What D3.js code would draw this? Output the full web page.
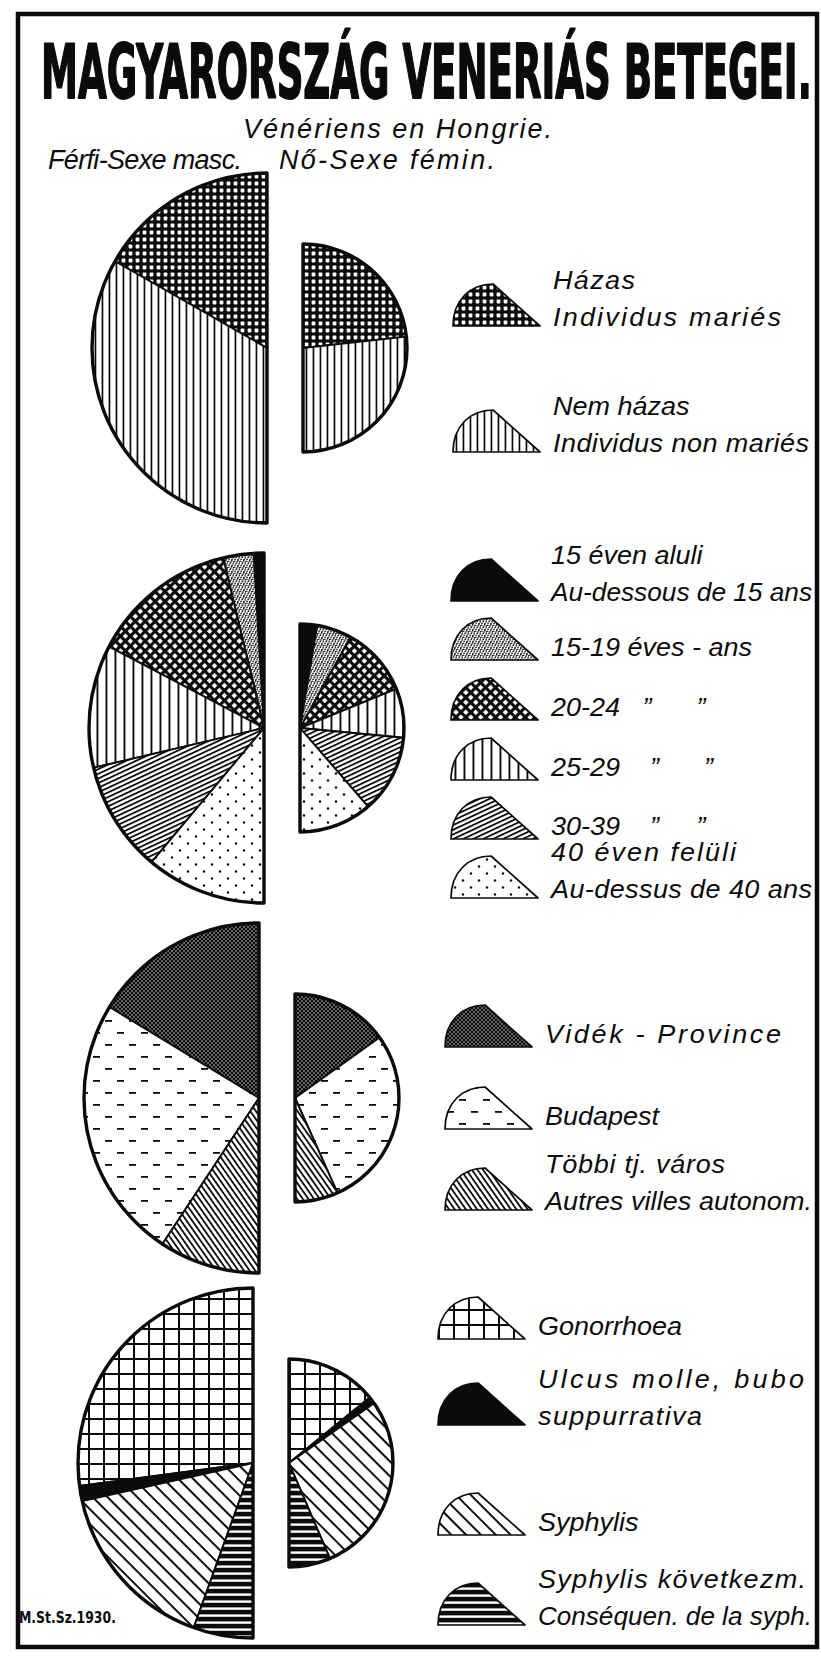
<!DOCTYPE html>
<html><head><meta charset="utf-8">
<script src="https://cdn.jsdelivr.net/npm/d3@7"></script>
<style>html,body{margin:0;padding:0;background:#fff;} svg{display:block}</style>
</head><body>
<svg id="chart" width="821" height="1660"></svg>
<script>
// ---------------- DATA ----------------
const sexes = ["Férfi", "Nő"];
const sexTotals = [100, 35.3];              // relative number of patients (male = 100)

const maritalCategories = ["Házas", "Nem házas"];
const maritalMale   = [33.5, 66.5];
const maritalFemale = [46.5, 53.5];

const ageCategories = ["15 éven aluli", "15-19", "20-24", "25-29", "30-39", "40 éven felüli"];
const ageMale   = [1.9, 5.6, 27.1, 22.7, 20.5, 22.2];
const ageFemale = [5.3, 10.9, 21.5, 15.3, 24.3, 22.7];

const residenceCategories = ["Vidék", "Budapest", "Többi tj. város"];
const residenceMale   = [32.6, 48.8, 18.6];
const residenceFemale = [30.2, 56.4, 13.4];

const diseaseCategories = ["Gonorrhoea", "Ulcus molle", "Syphylis", "Syphylis következm."];
const diseaseMale   = [54.2, 2.8, 32.0, 11.0];
const diseaseFemale = [28.3, 2.2, 56.6, 12.9];

const maritalLabels   = [["Házas", "Individus mariés"], ["Nem házas", "Individus non mariés"]];
const ageLabels       = [["15 éven aluli", "Au-dessous de 15 ans"], ["15-19 éves - ans"],
                         ["20-24   \u201D      \u201D"], ["25-29    \u201D      \u201D"],
                         ["30-39    \u201D     \u201D"], ["40 éven felüli", "Au-dessus de 40 ans"]];
const residenceLabels = [["Vidék - Province"], ["Budapest"], ["Többi tj. város", "Autres villes autonom."]];
const diseaseLabels   = [["Gonorrhoea"], ["Ulcus molle, bubo", "suppurrativa"], ["Syphylis"],
                         ["Syphylis következm.", "Conséquen. de la syph."]];

const titleText = "MAGYARORSZÁG VENERIÁS BETEGEI.";
const subtitleText = "Vénériens en Hongrie.";
const sexLabels = ["Férfi-Sexe masc.", "Nő-Sexe fémin."];
const creditText = "M.St.Sz.1930.";

// ---------------- LAYOUT ----------------
const layout = [
  { edge: 267, cy: 348,  legX: 453, legY: [326, 452] },
  { edge: 264, cy: 728,  legX: 451, legY: [601, 660, 720, 780, 839, 898] },
  { edge: 259, cy: 1098, legX: 445, legY: [1047, 1129, 1210] },
  { edge: 253, cy: 1463, legX: 438, legY: [1339, 1425, 1535, 1625] }
];
// target widths of the legend text lines (px)
const legendWidths = [
  [[82, 228], [135, 256]],
  [[145, 256], [182], [150], [150], [150], [185, 262]],
  [[236], [102], [180, 270]],
  [[129], [266, 164], [88], [268, 269]]
];
const halfGap = 36;

// ---------------- DRAWING ----------------
const svg = d3.select("#chart");
const INK = "#0b0b0b";
const defs = svg.append("defs");
function pat(id, w, h, draw, transform) {
  const p = defs.append("pattern").attr("id", id)
    .attr("patternUnits", "userSpaceOnUse").attr("width", w).attr("height", h);
  if (transform) p.attr("patternTransform", transform);
  draw(p, w, h);
}
const bg = (p, w, h, c) => p.append("rect").attr("width", w).attr("height", h).attr("fill", c);
pat("p-hazas", 7, 7, (p, w, h) => { bg(p, w, h, INK);
  p.append("rect").attr("x", 1.6).attr("y", 1.6).attr("width", 3.8).attr("height", 3.8).attr("rx", 0.8).attr("fill", "#fff"); });
pat("p-vert7", 7, 7, (p, w, h) => { bg(p, w, h, "#fff");
  p.append("rect").attr("x", 2.6).attr("width", 1.7).attr("height", h).attr("fill", INK); });
pat("p-black", 4, 4, (p, w, h) => bg(p, w, h, INK));
pat("p-stipple", 6, 6, (p, w, h) => { bg(p, w, h, "#fff");
  [[0.8,1.2],[3.8,0.6],[2.2,3.4],[5.1,3.9],[1.1,5.3],[4.0,5.6],[5.5,1.9],[3.0,2.0]].forEach(d =>
    p.append("circle").attr("cx", d[0]).attr("cy", d[1]).attr("r", 0.8).attr("fill", INK)); });
pat("p-cross", 7, 7, (p, w, h) => { bg(p, w, h, "#fff");
  p.append("rect").attr("width", w).attr("height", 3.1).attr("fill", INK);
  p.append("rect").attr("width", 3.1).attr("height", h).attr("fill", INK); }, "rotate(45)");
pat("p-vert9", 9, 9, (p, w, h) => { bg(p, w, h, "#fff");
  p.append("rect").attr("x", 3.5).attr("width", 1.9).attr("height", h).attr("fill", INK); });
pat("p-diag30", 4.2, 4.2, (p, w, h) => { bg(p, w, h, "#fff");
  p.append("rect").attr("width", w).attr("height", 1.8).attr("fill", INK); }, "rotate(-25)");
pat("p-sparse", 16, 14, (p, w, h) => { bg(p, w, h, "#fff");
  [[4,3.5],[12,10.5]].forEach(d => p.append("circle").attr("cx", d[0]).attr("cy", d[1]).attr("r", 1.2).attr("fill", INK)); });
pat("p-videk", 4, 4, (p, w, h) => { bg(p, w, h, INK);
  [[1,1],[3,3]].forEach(d => p.append("circle").attr("cx", d[0]).attr("cy", d[1]).attr("r", 0.7).attr("fill", "#fff")); });
pat("p-budapest", 24, 24, (p, w, h) => { bg(p, w, h, "#fff");
  [[2,6],[14,18]].forEach(d => p.append("rect").attr("x", d[0]).attr("y", d[1]).attr("width", 7).attr("height", 1.8).attr("fill", INK)); });
pat("p-tobbi", 4.6, 4.6, (p, w, h) => { bg(p, w, h, "#fff");
  p.append("rect").attr("width", w).attr("height", 1.8).attr("fill", INK); }, "rotate(55)");
pat("p-grid", 15, 15, (p, w, h) => { bg(p, w, h, "#fff");
  p.append("rect").attr("width", w).attr("height", 2).attr("fill", INK);
  p.append("rect").attr("width", 2).attr("height", h).attr("fill", INK); });
pat("p-syph", 10.5, 10.5, (p, w, h) => { bg(p, w, h, "#fff");
  p.append("rect").attr("width", w).attr("height", 2).attr("fill", INK); }, "rotate(45)");
pat("p-syphk", 7, 7, (p, w, h) => { bg(p, w, h, INK);
  p.append("rect").attr("y", 4.4).attr("width", w).attr("height", 2.4).attr("fill", "#fff"); });

const groups = [
  { values: [maritalMale, maritalFemale], cats: maritalCategories, labels: maritalLabels,
    patterns: ["p-hazas", "p-vert7"] },
  { values: [ageMale, ageFemale], cats: ageCategories, labels: ageLabels,
    patterns: ["p-black", "p-stipple", "p-cross", "p-vert9", "p-diag30", "p-sparse"] },
  { values: [residenceMale, residenceFemale], cats: residenceCategories, labels: residenceLabels,
    patterns: ["p-videk", "p-budapest", "p-tobbi"] },
  { values: [diseaseMale, diseaseFemale], cats: diseaseCategories, labels: diseaseLabels,
    patterns: ["p-grid", "p-black", "p-syph", "p-syphk"] }
];

const rScale = d3.scaleSqrt().domain([0, d3.max(sexTotals)]).range([0, 175]);

// frame
svg.append("rect").attr("x", 18).attr("y", 14).attr("width", 799).attr("height", 1633)
  .attr("fill", "none").attr("stroke", INK).attr("stroke-width", 4.5);

// fit a text horizontally between x0 and x0+width by scaling it
function fitText(sel, x0, y, width) {
  const len = sel.node().getComputedTextLength();
  sel.attr("x", 0).attr("y", 0)
    .attr("transform", `translate(${x0},${y}) scale(${width / len},1)`);
}

// title
const title = svg.append("text").text(titleText)
  .attr("font-family", "'Liberation Sans Narrow','DejaVu Sans Condensed','DejaVu Sans',sans-serif")
  .attr("font-weight", "bold").attr("font-size", 75)
  .attr("fill", INK).attr("stroke", INK).attr("stroke-width", 1.8).attr("stroke-linejoin", "round");
fitText(title, 41, 97.5, 771);

const italic = sel => sel.attr("font-family", "'Liberation Sans','DejaVu Sans',sans-serif")
  .attr("font-style", "italic").attr("fill", INK);

function lineText(str, x, y, size, width, adjust) {
  const t = svg.append("text").attr("x", x).attr("y", y).attr("font-size", size)
    .style("white-space", "pre").text(str).call(italic);
  const w = Math.min(width, 812 - x);
  t.attr("textLength", w).attr("lengthAdjust", adjust || "spacingAndGlyphs");
  return t;
}
// legend line: uniform glyph widening, extra width given to letter spacing
const GLYPH_STRETCH = 1.08;
function legendText(str, x, y, size, width) {
  const t = svg.append("text").attr("x", 0).attr("y", 0).attr("font-size", size)
    .style("white-space", "pre").text(str).call(italic)
    .attr("transform", `translate(${x},${y}) scale(${GLYPH_STRETCH},1)`);
  const len = t.node().getComputedTextLength() * GLYPH_STRETCH;
  const maxW = 812 - x;
  const w = Math.min(Math.max(width, len), maxW);
  if (Math.abs(w - len) > 0.5) {
    t.attr("textLength", w / GLYPH_STRETCH).attr("lengthAdjust", w > len ? "spacing" : "spacingAndGlyphs");
  }
  return t;
}
lineText(subtitleText, 243, 137.5, 27, 309, "spacing");
lineText(sexLabels[0], 48, 169, 27, 194, "spacing");
lineText(sexLabels[1], 279, 169, 27, 216, "spacing");

// pies
const arcGen = d3.arc().innerRadius(0);
groups.forEach((g, gi) => {
  const L = layout[gi];
  g.values.forEach((vals, si) => {
    const r = rScale(sexTotals[si]);
    const dir = si === 0 ? -1 : 1;
    const cx = si === 0 ? L.edge : L.edge + halfGap;
    const pie = d3.pie().sort(null).value(d => d).startAngle(0).endAngle(dir * Math.PI);
    const gg = svg.append("g").attr("transform", `translate(${cx},${L.cy})`);
    gg.selectAll("path.slice").data(pie(vals)).join("path").attr("class", "slice")
      .attr("d", d => arcGen.outerRadius(r)(d))
      .attr("fill", (d, i) => `url(#${g.patterns[i]})`)
      .attr("stroke", INK).attr("stroke-width", 1.9).attr("stroke-linejoin", "round");
    gg.append("path")
      .attr("d", arcGen.outerRadius(r)({ startAngle: 0, endAngle: dir * Math.PI }))
      .attr("fill", "none").attr("stroke", INK).attr("stroke-width", 3.4).attr("stroke-linejoin", "round");
  });

  // legend
  const iw = 87, ih = 42;
  const iconPath = `M0,0 C0,${-0.62 * ih} ${0.2 * iw},${-ih} ${0.46 * iw},${-ih} L${iw},0 Z`;
  g.cats.forEach((c, i) => {
    const yb = L.legY[i];
    svg.append("path").attr("d", iconPath).attr("transform", `translate(${L.legX},${yb})`)
      .attr("fill", `url(#${g.patterns[i]})`).attr("stroke", INK).attr("stroke-width", 1.7)
      .attr("stroke-linejoin", "round");
    const lines = g.labels[i];
    const tx = L.legX + 100;
    lines.forEach((line, li) => {
      const y = lines.length === 1 ? yb - 4 : (li === 0 ? yb - 37 : yb);
      legendText(line, tx, y, 25, legendWidths[gi][i][li]);
    });
  });
});

// credit
const credit = svg.append("text").text(creditText)
  .attr("font-family", "'DejaVu Sans Condensed','DejaVu Sans',sans-serif").attr("font-weight", "bold")
  .attr("font-size", 15).attr("fill", INK);
fitText(credit, 19, 1623, 97);
</script>
</body></html>
